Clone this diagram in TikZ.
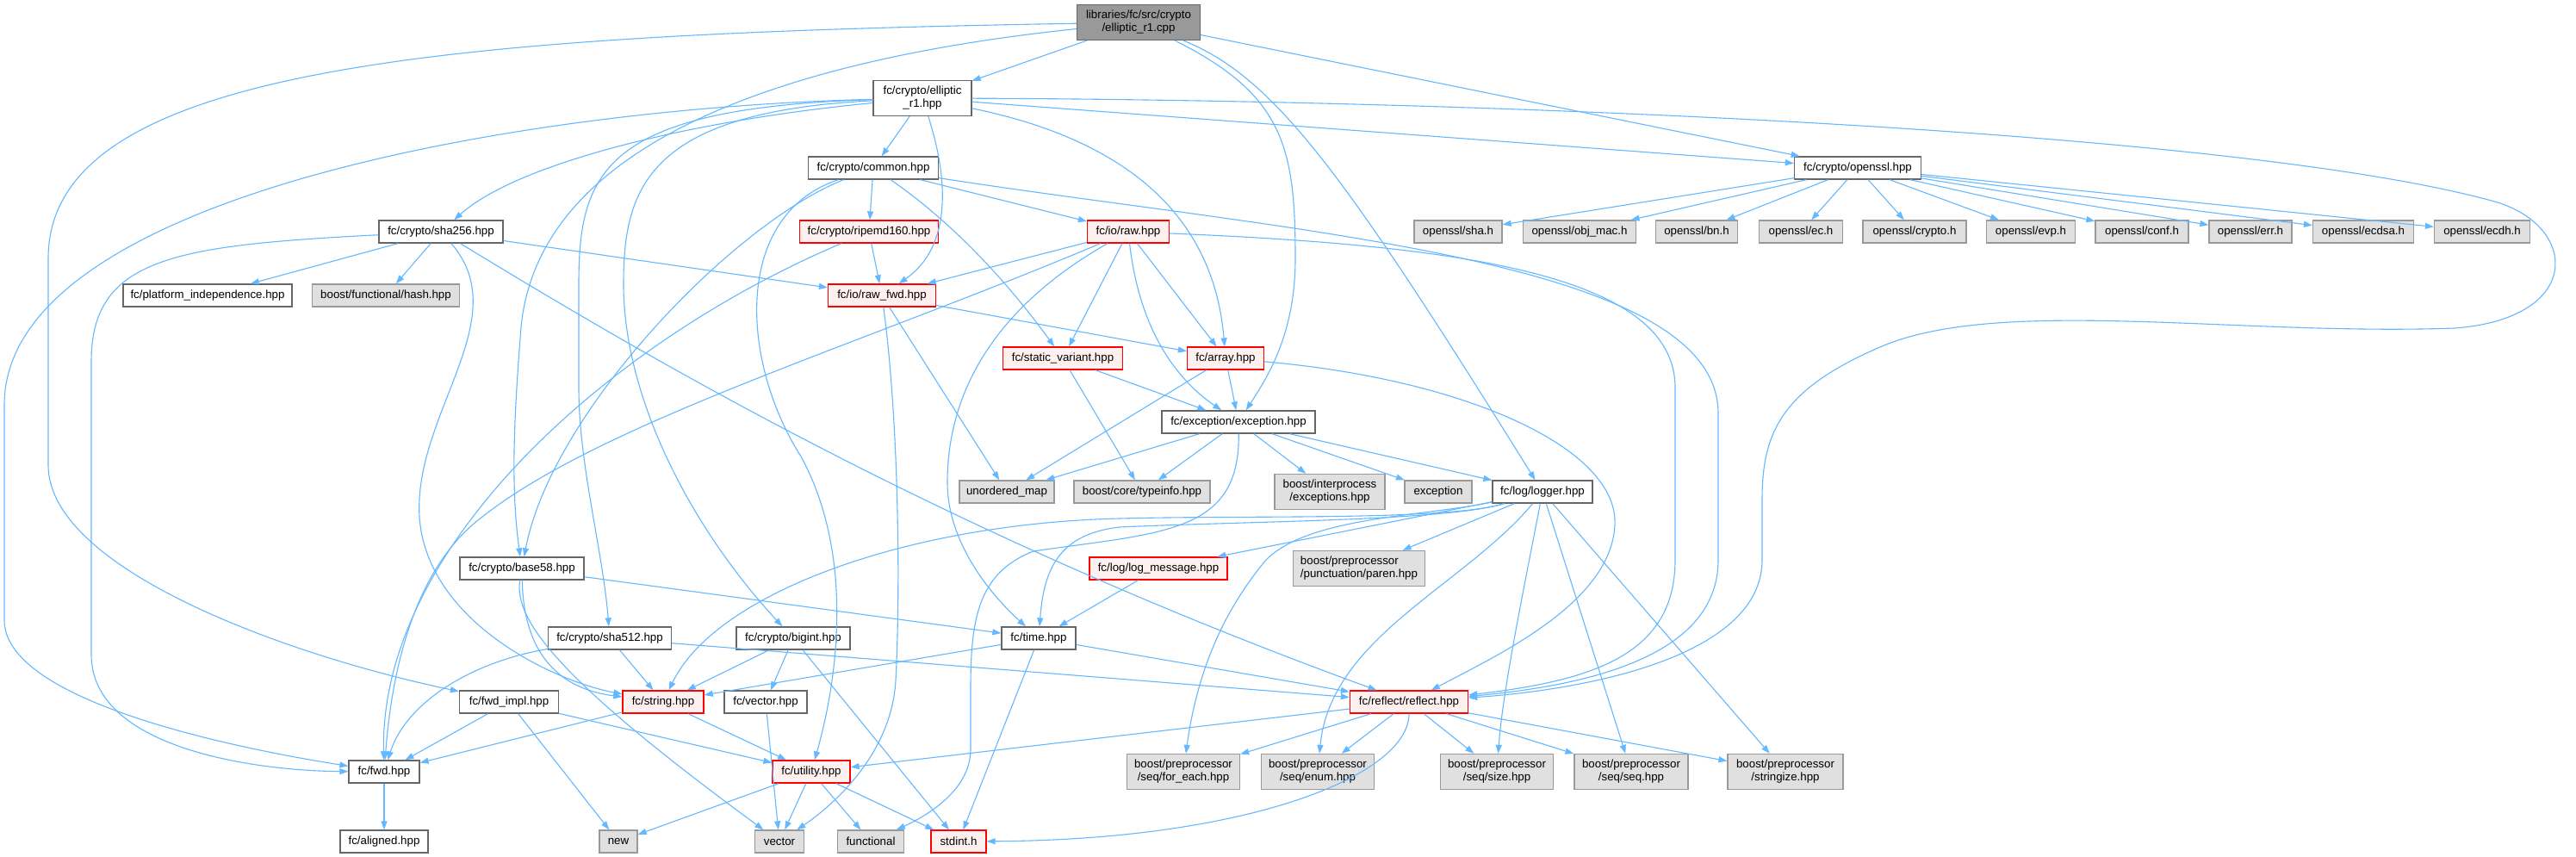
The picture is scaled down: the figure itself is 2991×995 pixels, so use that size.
\documentclass[tikz,border=0pt]{standalone}
\usepackage{fontspec}
\setmainfont{Liberation Sans}
\usetikzlibrary{arrows.meta}
\definecolor{incblue}{HTML}{63B8FF}
\definecolor{hline}{HTML}{666666}
\definecolor{sysline}{HTML}{999999}
\definecolor{sysfill}{HTML}{E0E0E0}
\definecolor{cutline}{HTML}{FF0000}
\definecolor{cutfill}{HTML}{FFF0F0}
\definecolor{srcfill}{HTML}{999999}
\begin{document}
\begin{tikzpicture}[x=1pt,y=-1pt,
    hfile/.style={draw=hline,fill=white,line width=1.3pt,minimum height=26pt,inner sep=2pt,font=\fontsize{13.3}{15}\selectfont},
    sysfile/.style={hfile,draw=sysline,fill=sysfill},
    cutfile/.style={hfile,draw=cutline,fill=cutfill},
    srcfile/.style={hfile,fill=srcfill},
    twoline/.style={minimum height=41pt,align=center},
    inc/.style={draw=incblue,line width=1.1pt,-{Triangle[length=10pt,width=7pt]}}]
        \path[fill=white,use as bounding box] (0,0) rectangle (2991,995);
        \node[srcfile,twoline,minimum width=143pt] (root) at (1322,26) {libraries/fc/src/crypto\\/elliptic\_r1.cpp};
        \node[hfile,twoline,minimum width=114pt] (ellhpp) at (1071,114) {fc/crypto/elliptic\\\_r1.hpp};
        \node[hfile,minimum width=151pt] (common) at (1014,195) {fc/crypto/common.hpp};
        \node[hfile,minimum width=147pt] (openssl) at (2157,195) {fc/crypto/openssl.hpp};
        \node[hfile,minimum width=144pt] (sha256) at (512,269) {fc/crypto/sha256.hpp};
        \node[cutfile,minimum width=161pt] (ripemd) at (1009,269) {fc/crypto/ripemd160.hpp};
        \node[cutfile,minimum width=95pt] (raw) at (1310,269) {fc/io/raw.hpp};
        \node[sysfile,minimum width=102pt] (ossha) at (1693,269) {openssl/sha.h};
        \node[sysfile,minimum width=131pt] (osobj) at (1834,269) {openssl/obj\_mac.h};
        \node[sysfile,minimum width=95pt] (osbn) at (1970,269) {openssl/bn.h};
        \node[sysfile,minimum width=97pt] (osec) at (2091,269) {openssl/ec.h};
        \node[sysfile,minimum width=120pt] (oscrypto) at (2223,269) {openssl/crypto.h};
        \node[sysfile,minimum width=103pt] (osevp) at (2358,269) {openssl/evp.h};
        \node[sysfile,minimum width=108pt] (osconf) at (2487,269) {openssl/conf.h};
        \node[sysfile,minimum width=96pt] (oserr) at (2613,269) {openssl/err.h};
        \node[sysfile,minimum width=117pt] (osecdsa) at (2744,269) {openssl/ecdsa.h};
        \node[sysfile,minimum width=111pt] (osecdh) at (2882,269) {openssl/ecdh.h};
        \node[hfile,minimum width=196pt] (platform) at (241,343) {fc/platform\_independence.hpp};
        \node[sysfile,minimum width=171pt] (hash) at (448,343) {boost/functional/hash.hpp};
        \node[cutfile,minimum width=125pt] (rawfwd) at (1024,343) {fc/io/raw\_fwd.hpp};
        \node[cutfile,minimum width=139pt] (staticv) at (1234,416) {fc/static\_variant.hpp};
        \node[cutfile,minimum width=89pt] (array) at (1423,416) {fc/array.hpp};
        \node[hfile,minimum width=178pt] (exception) at (1438,490) {fc/exception/exception.hpp};
        \node[sysfile,minimum width=110pt] (umap) at (1169,571) {unordered\_map};
        \node[sysfile,minimum width=158pt] (typeinfo) at (1326,571) {boost/core/typeinfo.hpp};
        \node[sysfile,twoline,minimum width=128pt] (interproc) at (1544,571) {boost/interprocess\\/exceptions.hpp};
        \node[sysfile,minimum width=78pt] (excstd) at (1670,571) {exception};
        \node[hfile,minimum width=116pt] (logger) at (1791,571) {fc/log/logger.hpp};
        \node[hfile,minimum width=144pt] (base58) at (606,660) {fc/crypto/base58.hpp};
        \node[cutfile,minimum width=160pt] (logmsg) at (1345,660) {fc/log/log\_message.hpp};
        \node[sysfile,minimum height=41pt,align=left,minimum width=153pt] (paren) at (1578,660) {boost/preprocessor\\/punctuation/paren.hpp};
        \node[hfile,minimum width=143pt] (sha512) at (708,741) {fc/crypto/sha512.hpp};
        \node[hfile,minimum width=132pt] (bigint) at (921,741) {fc/crypto/bigint.hpp};
        \node[hfile,minimum width=86pt] (time) at (1206,741) {fc/time.hpp};
        \node[hfile,minimum width=115pt] (fwdimpl) at (591,815) {fc/fwd\_impl.hpp};
        \node[cutfile,minimum width=94pt] (string) at (770,815) {fc/string.hpp};
        \node[hfile,minimum width=96pt] (vectorhpp) at (889,815) {fc/vector.hpp};
        \node[cutfile,minimum width=137pt] (reflect) at (1636,815) {fc/reflect/reflect.hpp};
        \node[hfile,minimum width=82pt] (fwd) at (446,896) {fc/fwd.hpp};
        \node[cutfile,minimum width=90pt] (utility) at (942,896) {fc/utility.hpp};
        \node[sysfile,twoline,minimum width=131pt] (foreach) at (1374,896) {boost/preprocessor\\/seq/for\_each.hpp};
        \node[sysfile,twoline,minimum width=131pt] (enum) at (1530,896) {boost/preprocessor\\/seq/enum.hpp};
        \node[sysfile,twoline,minimum width=131pt] (size) at (1738,896) {boost/preprocessor\\/seq/size.hpp};
        \node[sysfile,twoline,minimum width=132pt] (seq) at (1894,896) {boost/preprocessor\\/seq/seq.hpp};
        \node[sysfile,twoline,minimum width=134pt] (stringize) at (2073,896) {boost/preprocessor\\/stringize.hpp};
        \node[hfile,minimum width=102pt] (aligned) at (446,977) {fc/aligned.hpp};
        \node[sysfile,minimum width=44pt] (new) at (718,977) {new};
        \node[sysfile,minimum width=57pt] (vector) at (905,977) {vector};
        \node[sysfile,minimum width=77pt] (functional) at (1011,977) {functional};
        \node[cutfile,minimum width=64pt] (stdint) at (1113,977) {stdint.h};
        \draw[inc] (root) -- (ellhpp);
        \draw[inc] (root) .. controls (900,70) and (625,170) .. (605,380) .. controls (598,470) and (592,560) .. (base58);
        \draw[inc] (root) .. controls (500,40) and (56,80) .. (56,300) -- (56,540) .. controls (56,660) and (330,760) .. (fwdimpl);
        \draw[inc] (root) -- (openssl);
        \draw[inc] (root) .. controls (1490,110) and (1504,170) .. (1504,300) .. controls (1504,390) and (1470,440) .. (exception);
        \draw[inc] (root) .. controls (1480,90) and (1560,200) .. (logger);
        \draw[inc] (ellhpp) -- (common);
        \draw[inc] (ellhpp) .. controls (1105,220) and (1100,290) .. (rawfwd);
        \draw[inc] (ellhpp) .. controls (1320,165) and (1410,260) .. (array);
        \draw[inc] (ellhpp) .. controls (1700,116) and (2600,150) .. (2900,235) .. controls (2995,265) and (2998,370) .. (2850,381) .. controls (2600,390) and (2330,345) .. (2190,400) .. controls (2070,450) and (2046,500) .. (2046,580) -- (2046,650) .. controls (2046,760) and (1850,800) .. (reflect);
        \draw[inc] (ellhpp) -- (openssl);
        \draw[inc] (ellhpp) .. controls (800,140) and (600,190) .. (sha256);
        \draw[inc] (ellhpp) .. controls (600,125) and (5,230) .. (5,470) -- (5,720) .. controls (5,810) and (250,865) .. (fwd);
        \draw[inc] (ellhpp) .. controls (700,125) and (672,200) .. (672,330) -- (672,450) .. controls (672,540) and (700,640) .. (sha512);
        \draw[inc] (ellhpp) .. controls (750,130) and (724,220) .. (724,330) .. controls (724,460) and (800,610) .. (bigint);
        \draw[inc] (common) -- (ripemd);
        \draw[inc] (common) -- (raw);
        \draw[inc] (common) .. controls (1080,240) and (1150,300) .. (staticv);
        \draw[inc] (common) .. controls (1500,270) and (1995,300) .. (1995,480) -- (1995,650) .. controls (1995,760) and (1850,795) .. (reflect);
        \draw[inc] (common) .. controls (850,260) and (640,480) .. (base58);
        \draw[inc] (common) .. controls (850,250) and (860,420) .. (930,530) .. controls (990,640) and (975,780) .. (utility);
        \draw[inc] (openssl) -- (ossha);
        \draw[inc] (openssl) -- (osobj);
        \draw[inc] (openssl) -- (osbn);
        \draw[inc] (openssl) -- (osec);
        \draw[inc] (openssl) -- (oscrypto);
        \draw[inc] (openssl) -- (osevp);
        \draw[inc] (openssl) -- (osconf);
        \draw[inc] (openssl) -- (oserr);
        \draw[inc] (openssl) -- (osecdsa);
        \draw[inc] (openssl) -- (osecdh);
        \draw[inc] (sha256) .. controls (200,285) and (106,300) .. (106,420) -- (106,760) .. controls (106,870) and (300,895) .. (fwd);
        \draw[inc] (sha256) -- (platform);
        \draw[inc] (sha256) -- (hash);
        \draw[inc] (sha256) .. controls (600,370) and (480,480) .. (487,600) .. controls (495,720) and (640,790) .. (string);
        \draw[inc] (sha256) -- (rawfwd);
        \draw[inc] (sha256) .. controls (760,420) and (1100,620) .. (reflect);
        \draw[inc] (ripemd) -- (rawfwd);
        \draw[inc] (ripemd) .. controls (700,400) and (440,640) .. (fwd);
        \draw[inc] (raw) -- (rawfwd);
        \draw[inc] (raw) .. controls (1000,400) and (700,490) .. (560,600) .. controls (480,660) and (455,780) .. (fwd);
        \draw[inc] (raw) .. controls (1150,360) and (1100,460) .. (1100,560) .. controls (1100,630) and (1150,690) .. (time);
        \draw[inc] (raw) -- (staticv);
        \draw[inc] (raw) .. controls (1325,400) and (1380,450) .. (exception);
        \draw[inc] (raw) -- (array);
        \draw[inc] (raw) .. controls (1700,285) and (1945,320) .. (1945,450) -- (1945,650) .. controls (1945,760) and (1850,790) .. (reflect);
        \draw[inc] (rawfwd) -- (array);
        \draw[inc] (rawfwd) -- (umap);
        \draw[inc] (rawfwd) .. controls (1045,500) and (1045,700) .. (1040,790) .. controls (1035,880) and (960,940) .. (vector);
        \draw[inc] (staticv) -- (typeinfo);
        \draw[inc] (staticv) -- (exception);
        \draw[inc] (array) -- (exception);
        \draw[inc] (array) -- (umap);
        \draw[inc] (array) .. controls (1700,440) and (1880,520) .. (1875,610) .. controls (1870,700) and (1740,760) .. (reflect);
        \draw[inc] (exception) -- (umap);
        \draw[inc] (exception) -- (typeinfo);
        \draw[inc] (exception) -- (interproc);
        \draw[inc] (exception) -- (excstd);
        \draw[inc] (exception) -- (logger);
        \draw[inc] (exception) .. controls (1440,620) and (1350,618) .. (1200,640) .. controls (1135,665) and (1127,720) .. (1127,800) -- (1127,870) .. controls (1127,920) and (1070,950) .. (functional);
        \draw[inc] (logger) -- (logmsg);
        \draw[inc] (logger) -- (paren);
        \draw[inc] (logger) .. controls (1680,605) and (1450,605) .. (1300,612) .. controls (1230,620) and (1212,660) .. (time);
        \draw[inc] (logger) .. controls (1680,605) and (1450,598) .. (1300,602) .. controls (1050,608) and (830,690) .. (string);
        \draw[inc] (logger) .. controls (1650,600) and (1520,600) .. (1470,650) .. controls (1420,710) and (1390,780) .. (foreach);
        \draw[inc] (logger) .. controls (1700,680) and (1545,740) .. (enum);
        \draw[inc] (logger) .. controls (1770,680) and (1745,800) .. (size);
        \draw[inc] (logger) -- (seq);
        \draw[inc] (logger) -- (stringize);
        \draw[inc] (logmsg) -- (time);
        \draw[inc] (base58) -- (time);
        \draw[inc] (base58) .. controls (608,760) and (650,800) .. (string);
        \draw[inc] (base58) .. controls (596,720) and (650,790) .. (vector);
        \draw[inc] (sha512) .. controls (540,770) and (470,820) .. (fwd);
        \draw[inc] (sha512) -- (string);
        \draw[inc] (sha512) -- (reflect);
        \draw[inc] (bigint) -- (string);
        \draw[inc] (bigint) -- (vectorhpp);
        \draw[inc] (bigint) -- (stdint);
        \draw[inc] (time) -- (string);
        \draw[inc] (time) -- (reflect);
        \draw[inc] (time) -- (stdint);
        \draw[inc] (fwdimpl) -- (fwd);
        \draw[inc] (fwdimpl) -- (utility);
        \draw[inc] (fwdimpl) -- (new);
        \draw[inc] (string) -- (fwd);
        \draw[inc] (string) -- (utility);
        \draw[inc] (vectorhpp) -- (vector);
        \draw[inc] (reflect) -- (utility);
        \draw[inc] (reflect) -- (foreach);
        \draw[inc] (reflect) -- (enum);
        \draw[inc] (reflect) -- (size);
        \draw[inc] (reflect) -- (seq);
        \draw[inc] (reflect) -- (stringize);
        \draw[inc] (reflect) .. controls (1636,900) and (1450,975) .. (stdint);
        \draw[inc] (fwd) -- (aligned);
        \draw[inc] (utility) -- (new);
        \draw[inc] (utility) -- (vector);
        \draw[inc] (utility) -- (functional);
        \draw[inc] (utility) -- (stdint);
\end{tikzpicture}
\end{document}
